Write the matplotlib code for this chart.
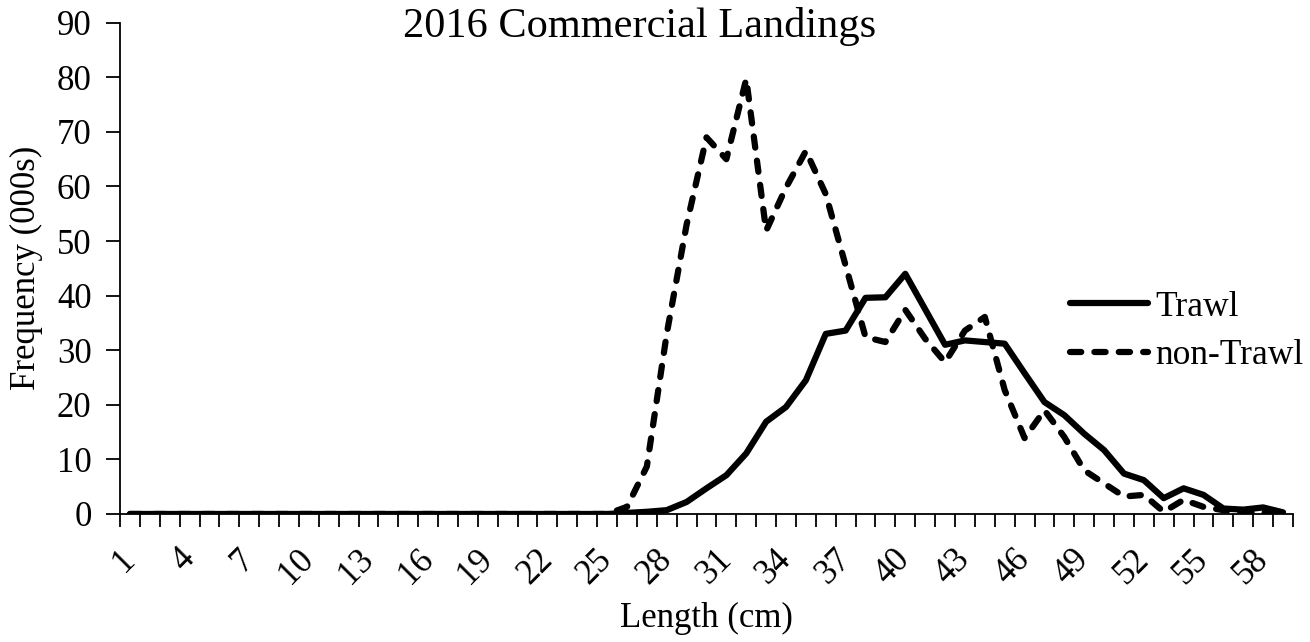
import numpy as np
import matplotlib.pyplot as plt
from matplotlib.ticker import FixedLocator

plt.rcParams['font.family'] = ['Liberation Serif', 'DejaVu Serif']

# length classes (cm)
lengths = list(range(1, 60))

# landings frequency (000s)
trawl = [0] * 25 + [
    0.2, 0.4, 0.7, 2.2, 4.7, 7.1, 11.1, 16.9, 19.6, 24.5,   # 26-35
    33.0, 33.6, 39.6, 39.7, 44.0, 37.5, 31.0, 31.8, 31.5, 31.2,  # 36-45
    25.8, 20.5, 18.1, 14.7, 11.7, 7.4, 6.2, 2.9, 4.7, 3.5,  # 46-55
    1.0, 0.8, 1.2, 0.3]                                     # 56-59
non_trawl = [0] * 25 + [
    1.3, 8.7, 33.0, 53.0, 69.0, 65.0, 79.7, 51.9, 59.8, 66.5,
    58.6, 45.5, 32.4, 31.5, 37.4, 32.1, 27.8, 33.6, 36.1, 22.7,
    13.9, 19.0, 14.1, 8.0, 5.6, 3.2, 3.5, 0.4, 2.6, 1.3,
    0.7, 0.3, 0.3, 0.0]

tick_labels = [str(v) for v in lengths[::3]]

FS = 25

fig = plt.figure(figsize=(13.1, 6.42), dpi=100)
ax = fig.add_axes([0.0916, 0.1994, 0.8954, 0.7652])

ax.plot(lengths, trawl, color='black', lw=4.5, solid_joinstyle='round',
        solid_capstyle='round', label='Trawl')
ax.plot(lengths, non_trawl, color='black', lw=4.5, dashes=(1.8, 2.1),
        dash_capstyle='round', dash_joinstyle='round', label='non-Trawl')

ax.set_xlim(0.5, 59.5)
ax.set_ylim(0, 90)
ax.set_yticks(np.arange(0, 91, 10))
ax.set_xticks(lengths[::3])
ax.set_xticklabels(tick_labels, rotation=45, ha='right', va='center', rotation_mode='anchor')
ax.xaxis.set_minor_locator(FixedLocator(np.arange(0.5, 60, 1)))
ax.tick_params(axis='x', which='major', length=0, labelsize=FS, pad=29)
ax.tick_params(axis='x', which='minor', length=9, width=1.3, direction='out')
ax.tick_params(axis='y', length=10, width=1.3, direction='out', labelsize=FS, pad=10.5)

for s in ['top', 'right']:
    ax.spines[s].set_visible(False)
for s in ['left', 'bottom']:
    ax.spines[s].set_linewidth(1.3)

fig.text(0.488, 1 - 37 / 642, '2016 Commercial Landings', fontsize=30.5,
         ha='center', va='baseline')
ax.set_xlabel('Length (cm)', fontsize=FS)
ax.xaxis.set_label_coords(0.5, -0.18)
ax.set_ylabel('Frequency (000s)', fontsize=FS)
ax.yaxis.set_label_coords(-0.066, 0.5)

ax.legend(loc='center left', bbox_to_anchor=(1070 / 1310, 1 - 331.5 / 642),
          bbox_transform=fig.transFigure, frameon=False, fontsize=25.5,
          handlelength=2.2, handletextpad=0.2, labelspacing=0.45,
          borderpad=0, borderaxespad=0)

plt.savefig('out.png', dpi=100)
